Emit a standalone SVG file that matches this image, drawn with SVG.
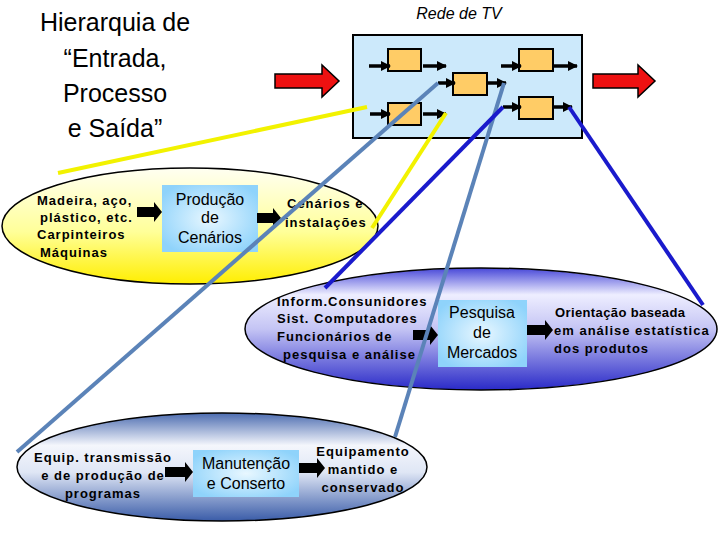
<svg xmlns="http://www.w3.org/2000/svg" width="720" height="540" viewBox="0 0 720 540">
<defs>
<linearGradient id="gY" x1="0" y1="0" x2="0" y2="1">
<stop offset="0" stop-color="#fffff2"/><stop offset="0.55" stop-color="#ffff99"/><stop offset="1" stop-color="#ffee00"/>
</linearGradient>
<linearGradient id="gB1" x1="0" y1="0" x2="0" y2="1">
<stop offset="0" stop-color="#4848d8"/><stop offset="0.22" stop-color="#eeeeff"/><stop offset="0.5" stop-color="#c4c4f4"/><stop offset="1" stop-color="#2a2ac8"/>
</linearGradient>
<linearGradient id="gB2" x1="0" y1="0" x2="0" y2="1">
<stop offset="0" stop-color="#4c6cb0"/><stop offset="0.3" stop-color="#f4f6fc"/><stop offset="0.55" stop-color="#dfe6f5"/><stop offset="1" stop-color="#3a5ca8"/>
</linearGradient>
<radialGradient id="gBox" cx="0.5" cy="0.5" r="0.6">
<stop offset="0" stop-color="#e8f7ff"/><stop offset="1" stop-color="#8fd3fb"/>
</radialGradient>
<marker id="ah" markerWidth="10" markerHeight="10" refX="9" refY="5" orient="auto" markerUnits="userSpaceOnUse">
<path d="M0,0 L10,5 L0,10 Z" fill="#000"/>
</marker>
<style>
.ttl{font-family:"Liberation Sans",Arial,sans-serif;font-size:25px;fill:#000;text-anchor:middle}
.et{font-family:"Liberation Sans",Arial,sans-serif;font-size:13px;font-weight:bold;letter-spacing:1px;fill:#000}
.bt{font-family:"Liberation Sans",Arial,sans-serif;font-size:16px;fill:#000;text-anchor:middle}
.blk{fill:#000}
.red{fill:#ee1111;stroke:#000;stroke-width:1.5}
.ob{fill:#ffcc66;stroke:#000;stroke-width:2}
.ia{stroke:#000;stroke-width:3.5;marker-end:url(#ah)}
.c{fill:none;stroke-width:4;stroke-linecap:butt}
</style>
</defs>
<rect width="720" height="540" fill="#fff"/>

<g id="title">
<text class="ttl" x="115" y="31">Hierarquia de</text>
<text class="ttl" x="115" y="67">“Entrada,</text>
<text class="ttl" x="115" y="102">Processo</text>
<text class="ttl" x="115" y="137">e Saída”</text>
</g>

<g id="tvnet">
<text x="459" y="19" font-family="Liberation Sans,Arial,sans-serif" font-size="16" font-style="italic" text-anchor="middle">Rede de TV</text>
<rect x="353" y="35" width="229" height="103" fill="#cce9fb" stroke="#000" stroke-width="2"/>
<rect class="ob" x="388" y="49" width="33" height="22"/>
<rect class="ob" x="453" y="73" width="34" height="22"/>
<rect class="ob" x="519" y="49" width="34" height="22"/>
<rect class="ob" x="388" y="103" width="33" height="22"/>
<rect class="ob" x="519" y="97" width="34" height="22"/>
<line class="ia" x1="369" y1="66" x2="390" y2="66"/>
<line class="ia" x1="423" y1="66" x2="446" y2="66"/>
<line class="ia" x1="438" y1="83" x2="455" y2="83"/>
<line class="ia" x1="487" y1="83" x2="506" y2="83"/>
<line class="ia" x1="501" y1="66" x2="521" y2="66"/>
<line class="ia" x1="553" y1="66" x2="577" y2="66"/>
<line class="ia" x1="370" y1="114" x2="390" y2="114"/>
<line class="ia" x1="423" y1="114" x2="446" y2="114"/>
<line class="ia" x1="503" y1="107" x2="521" y2="107"/>
<line class="ia" x1="553" y1="107" x2="572" y2="107"/>
</g>

<g id="redarrows">
<path class="red" d="M275,74 H322 V65 L339,81 L322,97 V88 H275 Z"/>
<path class="red" d="M593,74 H638 V65 L655,81 L638,97 V88 H593 Z"/>
</g>

<g id="cenarios">
<ellipse cx="190" cy="226" rx="188" ry="58" fill="url(#gY)" stroke="#000" stroke-width="1.5"/>
<text class="et" x="37" y="205">Madeira, aço,</text>
<text class="et" x="40" y="222">plástico, etc.</text>
<text class="et" x="37" y="239">Carpinteiros</text>
<text class="et" x="40" y="257">Máquinas</text>
<path class="blk" d="M137,207 H154 V202 L162,212 L154,222 V217 H137 Z"/>
<rect x="162" y="185" width="96" height="67" fill="url(#gBox)"/>
<text class="bt" x="210" y="205">Produção</text>
<text class="bt" x="210" y="223">de</text>
<text class="bt" x="210" y="243">Cenários</text>
<path class="blk" d="M257,213 H273 V208 L281,218 L273,228 V223 H257 Z"/>
<text class="et" x="287" y="208">Cenários e</text>
<text class="et" x="285" y="227">instalações</text>
</g>

<g id="pesquisa">
<ellipse cx="481" cy="329" rx="236" ry="61" fill="url(#gB1)" stroke="#000" stroke-width="1.5"/>
<text class="et" x="277" y="306">Inform.Consunidores</text>
<text class="et" x="277" y="323">Sist. Computadores</text>
<text class="et" x="277" y="341">Funcionários de</text>
<text class="et" x="283" y="359">pesquisa e análise</text>
<path class="blk" d="M413,330 H430 V325 L438,335 L430,345 V340 H413 Z"/>
<rect x="438" y="300" width="89" height="67" fill="url(#gBox)"/>
<text class="bt" x="482" y="318">Pesquisa</text>
<text class="bt" x="482" y="338">de</text>
<text class="bt" x="482" y="358">Mercados</text>
<path class="blk" d="M527,325 H545 V320 L553,330 L545,340 V335 H527 Z"/>
<text class="et" x="555" y="317" textLength="131" lengthAdjust="spacing">Orientação baseada</text>
<text class="et" x="554" y="335">em análise estatística</text>
<text class="et" x="554" y="353">dos produtos</text>
</g>

<g id="manutencao">
<ellipse cx="222" cy="467" rx="205" ry="54" fill="url(#gB2)" stroke="#000" stroke-width="1.5"/>
<text class="et" x="103" y="462" text-anchor="middle">Equip. transmissão</text>
<text class="et" x="103" y="480" text-anchor="middle">e de produção de</text>
<text class="et" x="103" y="498" text-anchor="middle">programas</text>
<path class="blk" d="M165,467 H185 V462 L193,472 L185,482 V477 H165 Z"/>
<rect x="193" y="450" width="106" height="47" fill="url(#gBox)"/>
<text class="bt" x="246" y="469">Manutenção</text>
<text class="bt" x="246" y="489">e Conserto</text>
<path class="blk" d="M299,463 H317 V458 L325,468 L317,478 V473 H299 Z"/>
<text class="et" x="363" y="456" text-anchor="middle">Equipamento</text>
<text class="et" x="363" y="474" text-anchor="middle">mantido e</text>
<text class="et" x="363" y="492" text-anchor="middle">conservado</text>
</g>

<g id="connectors">
<line class="c" stroke="#f2f200" x1="58" y1="173" x2="367" y2="107"/>
<line class="c" stroke="#f2f200" x1="372" y1="228" x2="446" y2="113"/>
<line class="c" stroke="#5b83b8" x1="438" y1="83" x2="17" y2="452"/>
<line class="c" stroke="#5b83b8" x1="504" y1="83" x2="395" y2="437"/>
<line class="c" stroke="#1a1acc" x1="325" y1="288" x2="503" y2="107"/>
<line class="c" stroke="#1a1acc" x1="569" y1="107" x2="703" y2="305"/>
</g>
</svg>
